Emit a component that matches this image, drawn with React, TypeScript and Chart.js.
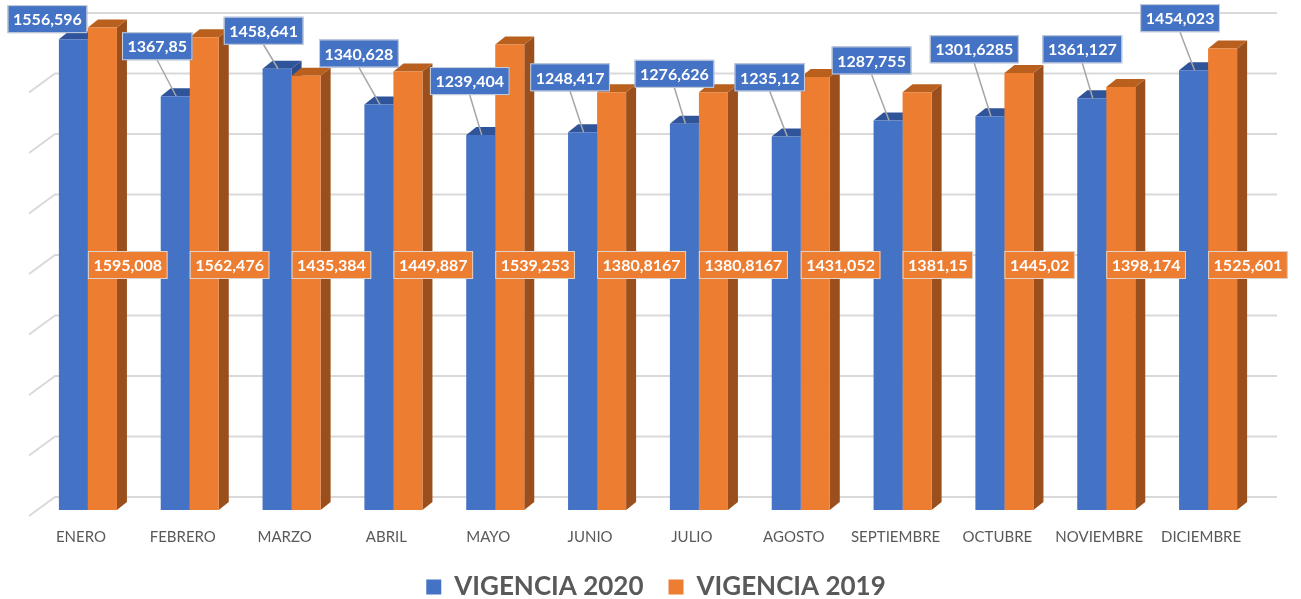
import React, { useEffect, useRef } from "react";
import { Chart, registerables } from "chart.js";

Chart.register(...registerables);

// ---------- DATA ----------
const MONTHS = [
  "ENERO", "FEBRERO", "MARZO", "ABRIL", "MAYO", "JUNIO",
  "JULIO", "AGOSTO", "SEPTIEMBRE", "OCTUBRE", "NOVIEMBRE", "DICIEMBRE",
];
const SERIES_NAMES = ["VIGENCIA 2020", "VIGENCIA 2019"];
const VIGENCIA_2020 = [
  1556.596, 1367.85, 1458.641, 1340.628, 1239.404, 1248.417,
  1276.626, 1235.12, 1287.755, 1301.6285, 1361.127, 1454.023,
];
const VIGENCIA_2019 = [
  1595.008, 1562.476, 1435.384, 1449.887, 1539.253, 1380.8167,
  1380.8167, 1431.052, 1381.15, 1445.02, 1398.174, 1525.601,
];
const GRID_VALUES = [0, 200, 400, 600, 800, 1000, 1200, 1400, 1600];

// ---------- LAYOUT (callout placement, px relative to bar top) ----------
const CALLOUT_DX = [-26, -18, -13.5, -20, -11, -12.5, -10, -16.5, -16.5, -15.6, -9.4, -13.5];
const CALLOUT_GAP = [6, 36, 24, 37, 40, 41, 36, 45, 46, 53, 35, 38];

// ---------- STYLE ----------
const FONT = "Lato, 'Open Sans', sans-serif";
const BLUE = "#4472C4";
const BLUE_TOP = "#30549A";
const BLUE_SIDE = "#2C4C8C";
const ORANGE = "#ED7D31";
const ORANGE_TOP = "#B9601F";
const ORANGE_SIDE = "#9A4F1D";
const DEPTH_X = 10;
const DEPTH_Y = 8;
const WALL_Y = 13;
const LEGEND_SHIFT_X = 8;
const LEGEND_SHIFT_Y = 3;

const fmt = (v: number) => String(v).replace(".", ",");

const threeDPlugin = {
  id: "threeD",
  afterLayout(chart: any) {
    const lg = chart.legend;
    if (lg) {
      lg.left += LEGEND_SHIFT_X;
      lg.right += LEGEND_SHIFT_X;
      lg.top += LEGEND_SHIFT_Y;
      lg.bottom += LEGEND_SHIFT_Y;
    }
  },
  beforeDatasetsDraw(chart: any) {
    const { ctx, chartArea } = chart;
    const y = chart.scales.y;
    ctx.save();
    // back wall gridlines + left wall diagonals
    ctx.strokeStyle = "#D9D9D9";
    ctx.lineWidth = 2;
    GRID_VALUES.forEach((v) => {
      const gy = y.getPixelForValue(v) - WALL_Y;
      ctx.beginPath();
      ctx.moveTo(chartArea.left - 8, gy + 19);
      ctx.lineTo(chartArea.left + 18, gy);
      ctx.lineTo(chartArea.right + 18, gy);
      ctx.stroke();
    });
    const metas = [chart.getDatasetMeta(0), chart.getDatasetMeta(1)];
    const sides = [BLUE_SIDE, ORANGE_SIDE];
    const tops = [BLUE_TOP, ORANGE_TOP];
    for (let i = 0; i < MONTHS.length; i++) {
      metas.forEach((meta, d) => {
        const el = meta.data[i];
        const { x, y: top, base, width } = el.getProps(["x", "y", "base", "width"], true);
        const l = x - width / 2;
        const r = x + width / 2;
        ctx.fillStyle = sides[d];
        ctx.beginPath();
        ctx.moveTo(r, top);
        ctx.lineTo(r + DEPTH_X, top - DEPTH_Y);
        ctx.lineTo(r + DEPTH_X, base - DEPTH_Y);
        ctx.lineTo(r, base);
        ctx.closePath();
        ctx.fill();
        ctx.fillStyle = tops[d];
        ctx.beginPath();
        ctx.moveTo(l, top);
        ctx.lineTo(l + DEPTH_X, top - DEPTH_Y);
        ctx.lineTo(r + DEPTH_X, top - DEPTH_Y);
        ctx.lineTo(r, top);
        ctx.closePath();
        ctx.fill();
      });
    }
    ctx.restore();
  },
  afterDatasetsDraw(chart: any) {
    const { ctx } = chart;
    const yScale = chart.scales.y;
    const m0 = chart.getDatasetMeta(0);
    const m1 = chart.getDatasetMeta(1);
    ctx.save();
    ctx.font = `bold 16px ${FONT}`;
    ctx.textAlign = "center";
    ctx.textBaseline = "middle";
    const H = 28;
    const drawBox = (left: number, topY: number, w: number, fill: string, text: string) => {
      ctx.fillStyle = fill;
      ctx.fillRect(left, topY, w, H);
      ctx.strokeStyle = "rgba(220,220,220,0.9)";
      ctx.lineWidth = 1;
      ctx.strokeRect(left + 0.5, topY + 0.5, w - 1, H - 1);
      ctx.fillStyle = "#FFFFFF";
      ctx.fillText(text, left + w / 2, topY + H / 2 + 1);
    };
    // orange labels (centered vertically in plot)
    const midY = yScale.getPixelForValue(800) - 3;
    VIGENCIA_2019.forEach((v, i) => {
      const el = m1.data[i];
      const { x, width } = el.getProps(["x", "width"], true);
      const t = fmt(v);
      const w = ctx.measureText(t).width + 11;
      drawBox(x - width / 2, midY - H / 2, w, ORANGE, t);
    });
    // blue callouts
    VIGENCIA_2020.forEach((v, i) => {
      const el = m0.data[i];
      const { x, y } = el.getProps(["x", "y"], true);
      const t = fmt(v);
      const w = ctx.measureText(t).width + 11;
      const cx = x + CALLOUT_DX[i];
      const bottom = y - CALLOUT_GAP[i];
      if (CALLOUT_GAP[i] > 12) {
        ctx.strokeStyle = "#A6A6A6";
        ctx.lineWidth = 1.5;
        ctx.beginPath();
        ctx.moveTo(cx, bottom);
        ctx.lineTo(x + 1, y);
        ctx.stroke();
      }
      drawBox(cx - w / 2, bottom - H, w, BLUE, t);
    });
    ctx.restore();
  },
};

export default function App() {
  const ref = useRef<HTMLCanvasElement>(null);
  useEffect(() => {
    if (!ref.current) return;
    Chart.defaults.font.family = FONT;
    const chart = new Chart(ref.current, {
      type: "bar",
      data: {
        labels: MONTHS,
        datasets: [
          { label: SERIES_NAMES[0], data: VIGENCIA_2020, backgroundColor: BLUE, borderWidth: 0 },
          { label: SERIES_NAMES[1], data: VIGENCIA_2019, backgroundColor: ORANGE, borderWidth: 0 },
        ],
      },
      options: {
        animation: false,
        responsive: true,
        maintainAspectRatio: false,
        datasets: { bar: { categoryPercentage: 0.57, barPercentage: 1 } },
        layout: { padding: { left: 37, right: 42, top: 26, bottom: 0 } },
        scales: {
          x: {
            grid: { display: false, drawTicks: false },
            border: { display: false },
            ticks: {
              padding: 18,
              labelOffset: -7,
              color: "#595959",
              font: { family: FONT, size: 15 },
              maxRotation: 0,
              autoSkip: false,
            },
            afterFit: (scale: any) => {
              scale.height = 36;
            },
          },
          y: {
            display: false,
            min: 0,
            max: 1600,
          },
        },
        plugins: {
          legend: {
            position: "bottom",
            maxHeight: 53,
            labels: {
              boxWidth: 15,
              boxHeight: 15,
              padding: 25,
              color: "#595959",
              font: { family: FONT, size: 26, weight: "bold" },
            },
          },
          tooltip: { enabled: false },
        },
      },
      plugins: [threeDPlugin],
    });
    return () => chart.destroy();
  }, []);
  return (
    <div style={{ position: "fixed", left: 0, top: 0, width: 1301, height: 599, background: "#fff" }}>
      <canvas ref={ref} />
    </div>
  );
}
